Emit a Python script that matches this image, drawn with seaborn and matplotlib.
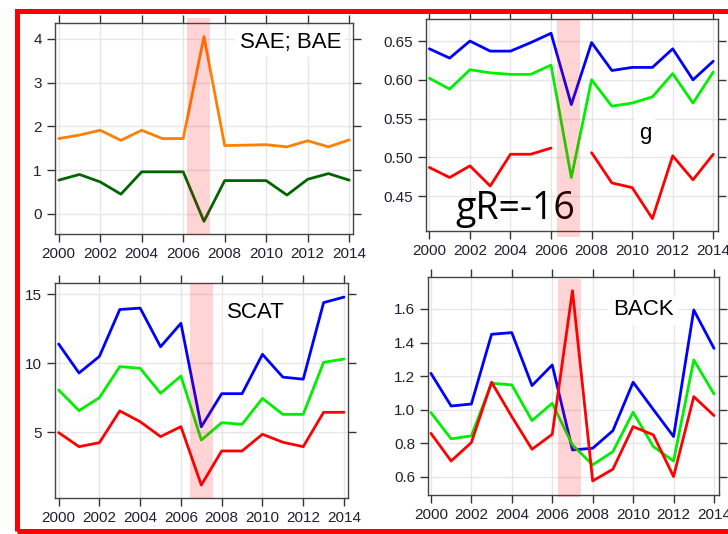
import numpy as np
import pandas as pd
import seaborn as sns
import matplotlib.pyplot as plt
from matplotlib.patches import Rectangle
from matplotlib.ticker import FormatStrFormatter

years = np.arange(2000, 2015)

# SAE; BAE panel
sae = [1.72, 1.80, 1.91, 1.68, 1.91, 1.72, 1.72, 4.05, 1.56, 1.57, 1.58, 1.53, 1.67, 1.53, 1.69]
bae = [0.77, 0.90, 0.73, 0.45, 0.96, 0.96, 0.96, -0.17, 0.76, 0.76, 0.76, 0.43, 0.79, 0.92, 0.77]

# g panel
g_blue = [0.640, 0.628, 0.650, 0.637, 0.637, 0.648, 0.660, 0.568, 0.648, 0.612, 0.616, 0.616, 0.640, 0.600, 0.624]
g_green = [0.602, 0.588, 0.613, 0.609, 0.607, 0.607, 0.619, 0.474, 0.600, 0.566, 0.570, 0.578, 0.608, 0.570, 0.610]
g_red = [0.487, 0.474, 0.489, 0.463, 0.504, 0.504, 0.512, np.nan, 0.506, 0.467, 0.461, 0.421, 0.502, 0.471, 0.504]

# SCAT panel
scat_blue = [11.4, 9.3, 10.5, 13.9, 14.0, 11.2, 12.9, 5.4, 7.8, 7.8, 10.65, 9.0, 8.85, 14.4, 14.8]
scat_green = [8.07, 6.57, 7.51, 9.76, 9.64, 7.83, 9.08, 4.44, 5.70, 5.58, 7.46, 6.30, 6.30, 10.07, 10.31]
scat_red = [4.98, 3.96, 4.25, 6.55, 5.77, 4.69, 5.41, 1.18, 3.65, 3.65, 4.86, 4.28, 3.96, 6.45, 6.45]

# BACK panel
back_blue = [1.216, 1.021, 1.033, 1.449, 1.459, 1.143, 1.266, 0.759, 0.769, 0.874, 1.163, 1.00, 0.839, 1.594, 1.365]
back_green = [0.982, 0.825, 0.843, 1.157, 1.147, 0.934, 1.037, 0.789, 0.670, 0.749, 0.984, 0.779, 0.693, 1.296, 1.093]
back_red = [0.858, 0.693, 0.803, 1.163, 0.958, 0.763, 0.852, 1.709, 0.574, 0.644, 0.898, 0.849, 0.600, 1.077, 0.964]

sns.set_style("white")
plt.rcParams["font.family"] = ["Liberation Sans", "DejaVu Sans"]

fig = plt.figure(figsize=(7.28, 5.34), dpi=100)

panels = [
    dict(rect=[0.0755, 0.5618, 0.4093, 0.3951],
         series=[(sae, "#FF7F00"), (bae, "#006400")],
         xlim=(1999.82, 2014.18), ylim=(-0.46, 4.36), yticks=[0, 1, 2, 3, 4], fmt="%d",
         span=(2006.19, 2007.27, -0.005, 1.024),
         label="SAE; BAE", lpos=(0.79, 0.91)),
    dict(rect=[0.5848, 0.5674, 0.4011, 0.3964],
         series=[(g_blue, "#0000FF"), (g_green, "#00EE00"), (g_red, "#FF0000")],
         xlim=(1999.82, 2014.22), ylim=(0.405, 0.678), yticks=[0.45, 0.50, 0.55, 0.60, 0.65], fmt="%.2f",
         span=(2006.31, 2007.43, -0.028, 1.0),
         label="g", lpos=(0.751, 0.463)),
    dict(rect=[0.0755, 0.0669, 0.4029, 0.4026],
         series=[(scat_blue, "#0000FF"), (scat_green, "#00EE00"), (scat_red, "#FF0000")],
         xlim=(1999.82, 2014.21), ylim=(0.22, 15.8), yticks=[5, 10, 15], fmt="%d",
         span=(2006.44, 2007.56, 0.0, 1.0),
         label="SCAT", lpos=(0.685, 0.862)),
    dict(rect=[0.5883, 0.0730, 0.3997, 0.4077],
         series=[(back_blue, "#0000FF"), (back_green, "#00EE00"), (back_red, "#FF0000")],
         xlim=(1999.87, 2014.26), ylim=(0.49, 1.789), yticks=[0.6, 0.8, 1.0, 1.2, 1.4, 1.6], fmt="%.1f",
         span=(2006.30, 2007.41, -0.009, 0.992),
         label="BACK", lpos=(0.738, 0.850)),
]

axes = []
for p in panels:
    ax = fig.add_axes(p["rect"])
    axes.append(ax)
    for vals, color in p["series"]:
        df = pd.DataFrame({"year": years, "val": vals})
        # split into separate pieces where values are missing
        df["seg"] = df["val"].isna().cumsum()
        sns.lineplot(data=df.dropna(), x="year", y="val", units="seg", estimator=None,
                     color=color, linewidth=2, ax=ax, zorder=3)
    ax.set_xlim(*p["xlim"])
    ax.set_ylim(*p["ylim"])
    ax.set_xticks(range(2000, 2015, 2))
    ax.set_yticks(p["yticks"])
    ax.yaxis.set_major_formatter(FormatStrFormatter(p["fmt"]))
    ax.set_xlabel("")
    ax.set_ylabel("")
    ax.grid(True, color="#E6E6E6", linewidth=1, zorder=0)
    ax.set_axisbelow(True)
    ax.tick_params(axis="both", which="major", direction="out", length=5.5, width=1,
                   color="#333333", labelsize=11, labelcolor="#202030", pad=4,
                   top=True, right=True, bottom=True, left=True)
    for s in ax.spines.values():
        s.set_color("#444444")
        s.set_linewidth(1)
    x0, x1, y0, y1 = p["span"]
    ax.axvspan(x0, x1, ymin=y0, ymax=y1, color="#FF0000", alpha=0.17, lw=0,
               zorder=4, clip_on=False)
    ax.text(p["lpos"][0], p["lpos"][1], p["label"], transform=ax.transAxes,
            ha="center", va="center", fontsize=16, color="black", zorder=5,
            bbox=dict(facecolor="white", edgecolor="none", pad=3))

axes[1].text(0.306, 0.057, "gR=-16", transform=axes[1].transAxes, ha="center",
             va="baseline", fontsize=27, family=["Open Sans", "DejaVu Sans"],
             color="black", zorder=2)

fig.add_artist(Rectangle((0.024, 0.0056), 1.05, 0.9747, transform=fig.transFigure,
                         fill=False, edgecolor="#FF0000", linewidth=3.6, clip_on=False))

fig.savefig("out.png", dpi=100)
